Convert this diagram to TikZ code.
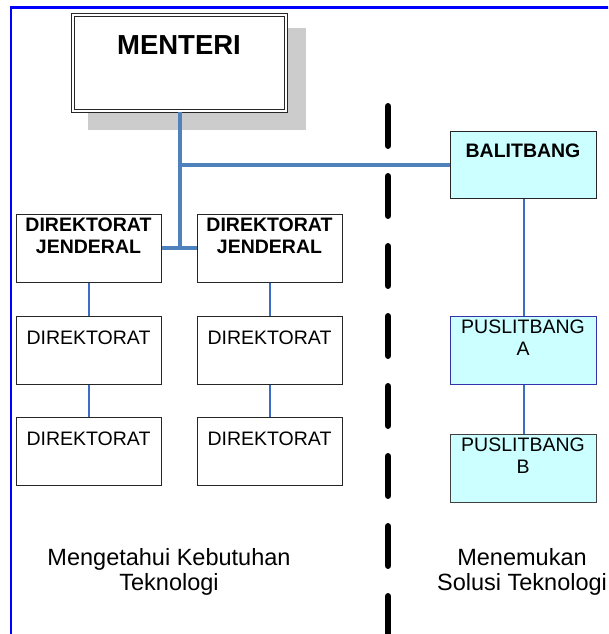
\documentclass[tikz,border=0pt]{standalone}
\usepackage{fontspec}
\setmainfont{Liberation Sans}
\usetikzlibrary{positioning}

\definecolor{linkblue}{RGB}{79,129,189}
\definecolor{thinblue}{RGB}{60,110,200}
\definecolor{lightcyan}{RGB}{204,255,255}
\definecolor{pusblue}{RGB}{51,51,170}

\begin{document}
\begin{tikzpicture}[x=1pt, y=-1pt]
        \tikzstyle{box}=[rectangle, draw=black!85, line width=1.2pt, minimum width=145pt, minimum height=67.5pt, inner sep=0pt, anchor=north west];
        \tikzstyle{cyanbox}=[box, fill=lightcyan, minimum width=146pt];
        \tikzstyle{txt}=[inner sep=0pt, anchor=north, align=center, font=\fontsize{19.5}{22}\selectfont];
        \tikzstyle{note}=[inner sep=0pt, anchor=north, align=center, font=\fontsize{23.5}{25}\selectfont];
        \tikzstyle{thickline}=[linkblue, line width=4pt];
        \tikzstyle{thinline}=[thinblue, line width=1.3pt];

        \useasboundingbox (0,0) rectangle (608,634);
        \clip (0,0) rectangle (608,634);

        % frame and shadow
        \draw[blue, line width=2.4pt] (11,660) |- (640,7.5);
        \fill[gray!40] (88,28) rectangle (306,130);

        \node[box, double, double distance=2.2pt, fill=white, minimum width=213pt, minimum height=96pt] (0) at (72.5,14.5) {};
        \node[txt, font=\fontsize{27.5}{30}\selectfont\bfseries] (t0) at (179,35) {MENTERI};

        \node[box] (1) at (16,214) {};
        \node[box] (2) at (197,214) {};
        \node[box] (3) at (16,316) {};
        \node[box] (4) at (197,316) {};
        \node[box] (5) at (16,417) {};
        \node[box] (6) at (197,417) {};

        \node[txt, font=\fontsize{19.5}{22}\selectfont\bfseries] (t1) at (88.5,218) {DIREKTORAT\\JENDERAL};
        \node[txt, font=\fontsize{19.5}{22}\selectfont\bfseries] (t2) at (269.5,218) {DIREKTORAT\\JENDERAL};
        \node[txt] (t3) at (88.5,331) {DIREKTORAT};
        \node[txt] (t4) at (269.5,331) {DIREKTORAT};
        \node[txt] (t5) at (88.5,432) {DIREKTORAT};
        \node[txt] (t6) at (269.5,432) {DIREKTORAT};

        \node[cyanbox] (7) at (450,130.5) {};
        \node[cyanbox, draw=pusblue] (8) at (450,316) {};
        \node[cyanbox, draw=black!75] (9) at (450,434) {};

        \node[txt, font=\fontsize{19.5}{22}\selectfont\bfseries] (t7) at (523,144) {BALITBANG};
        \node[txt] (t8) at (523,320) {PUSLITBANG\\A};
        \node[txt] (t9) at (523,438) {PUSLITBANG\\B};

        % connectors
        \draw[thickline] (0.south) |- (7.west);
        \draw[thickline] (0.south) -- (0.south |- 1.east);
        \draw[thickline] (1.east) -- (2.west);

        \draw[thinline] (1.south) -- (3.north);
        \draw[thinline] (3.south) -- (5.north);
        \draw[thinline] (2.south) -- (4.north);
        \draw[thinline] (4.south) -- (6.north);
        \draw[thinline, line width=2pt] (7.south) -- (8.north);
        \draw[thinline, line width=2pt] (8.south) -- (9.north);

        % divider
        \coordinate (d0) at (388,106.25);
        \coordinate (d1) at (388,660);
        \draw[black, line width=6.5pt, line cap=round, dash pattern=on 39.5pt off 30.5pt] (d0) -- (d1);

        \node[note] (n0) at (169,548) {Mengetahui Kebutuhan\\Teknologi};
        \node[note] (n1) at (522,548) {Menemukan\\Solusi Teknologi};

    \end{tikzpicture}
\end{document}
